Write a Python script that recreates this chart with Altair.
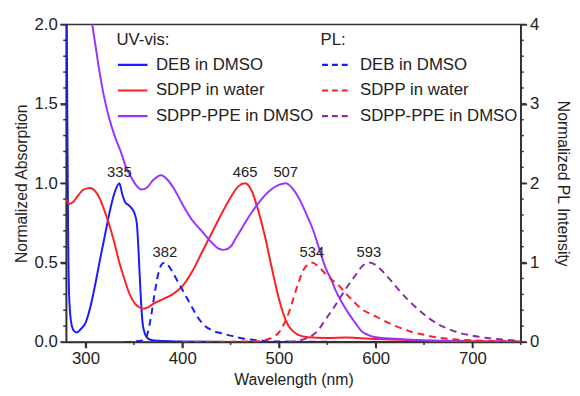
import altair as alt
import pandas as pd

FONT = "Liberation Sans"
INK = "#222222"
TICK = "#333333"

series_names = ["DEB in DMSO", "SDPP in water", "SDPP-PPE in DMSO"]
uv_colors = ["#1a1aff", "#ff1f1f", "#9933ff"]
pl_colors = ["#1a1aff", "#ff1f1f", "#8e2ba6"]

# ---- UV-vis absorption (left axis) ----
deb_abs_wl = [280, 281, 282, 283, 285, 288, 291, 295, 300, 305, 310, 315, 320, 325, 330, 335,
              338, 341, 345, 348, 350, 353, 355, 357, 359, 361, 364, 368, 375, 400, 450, 750]
deb_abs_v = [2.6, 1.6, 0.7, 0.3, 0.13, 0.07, 0.06, 0.08, 0.12, 0.22, 0.36, 0.52, 0.67, 0.82, 0.94, 1.0,
             0.93, 0.88, 0.86, 0.84, 0.82, 0.75, 0.55, 0.3, 0.12, 0.06, 0.025, 0.012, 0.007, 0.003, 0.0, 0.0]

sdpp_abs_wl = [280, 283, 287, 292, 298, 305, 310, 315, 320, 325, 330, 335, 340, 345, 350, 355, 360,
               365, 370, 380, 390, 400, 410, 420, 430, 440, 450, 458, 465, 472, 478, 485, 490, 495,
               500, 505, 510, 515, 520, 530, 550, 570, 580, 600, 650, 700, 750]
sdpp_abs_v = [0.9, 0.87, 0.88, 0.92, 0.96, 0.97, 0.95, 0.9, 0.82, 0.73, 0.62, 0.5, 0.4, 0.31, 0.25, 0.22, 0.21,
              0.22, 0.24, 0.27, 0.3, 0.35, 0.44, 0.56, 0.68, 0.8, 0.91, 0.98, 1.0, 0.95, 0.84, 0.68, 0.54, 0.4,
              0.27, 0.17, 0.1, 0.065, 0.045, 0.03, 0.025, 0.028, 0.025, 0.018, 0.01, 0.005, 0.003]

ppe_abs_wl = [300, 307, 310, 314, 319, 324, 330, 337, 342, 347, 352, 358, 363, 370, 378, 385, 392, 400,
              410, 420, 430, 437, 443, 450, 455, 462, 470, 477, 485, 494, 500, 507, 515, 522, 528, 535,
              541, 548, 555, 559, 565, 572, 579, 585, 592, 600, 620, 650, 700, 750]
ppe_abs_v = [2.4, 2.0, 1.88, 1.72, 1.55, 1.42, 1.3, 1.19, 1.1, 1.04, 0.99, 0.96, 0.97, 1.02, 1.05, 1.02, 0.96, 0.87,
             0.77, 0.7, 0.63, 0.59, 0.58, 0.6, 0.65, 0.72, 0.8, 0.86, 0.92, 0.97, 0.99, 1.0, 0.96, 0.89, 0.81, 0.71,
             0.6, 0.47, 0.38, 0.32, 0.25, 0.18, 0.12, 0.07, 0.045, 0.03, 0.02, 0.01, 0.005, 0.0]

# ---- PL emission (right axis) ----
deb_pl_wl = [340, 360, 364, 368, 372, 376, 379, 382, 386, 390, 395, 400, 405, 410, 415, 422, 430, 440,
             450, 460, 470, 480, 490, 500, 600]
deb_pl_v = [0.0, 0.02, 0.1, 0.34, 0.65, 0.9, 0.98, 1.0, 0.96, 0.88, 0.77, 0.66, 0.55, 0.44, 0.33, 0.22, 0.15, 0.11,
            0.08, 0.05, 0.03, 0.02, 0.01, 0.005, 0.0]

sdpp_pl_wl = [400, 480, 490, 495, 500, 505, 510, 515, 520, 525, 530, 534, 540, 548, 555, 562, 570, 578,
              586, 599, 605, 615, 625, 635, 650, 667, 680, 700, 725, 750]
sdpp_pl_v = [0.0, 0.01, 0.04, 0.07, 0.12, 0.22, 0.36, 0.55, 0.74, 0.9, 0.98, 1.0, 0.96, 0.86, 0.78, 0.71, 0.6, 0.5,
             0.41, 0.33, 0.29, 0.23, 0.18, 0.135, 0.09, 0.05, 0.035, 0.02, 0.01, 0.005]

ppe_pl_wl = [510, 520, 530, 540, 548, 556, 565, 572, 579, 585, 593, 600, 608, 616, 625, 635, 643, 655,
             665, 674, 685, 700, 715, 730, 750]
ppe_pl_v = [0.0, 0.02, 0.05, 0.14, 0.28, 0.42, 0.59, 0.72, 0.84, 0.94, 1.0, 0.97, 0.88, 0.77, 0.64, 0.51, 0.42, 0.3,
            0.22, 0.17, 0.12, 0.08, 0.05, 0.03, 0.015]

uv_peak_wl = [335, 465, 507]
uv_peak_v = [1.0, 1.0, 1.0]
pl_peak_wl = [382, 534, 593]
pl_peak_v = [1.0, 1.0, 1.0]

x_major = [300, 400, 500, 600, 700]
x_minor = [350, 450, 550, 650, 750]
left_major = [0.0, 0.5, 1.0, 1.5, 2.0]
left_minor = [0.1, 0.2, 0.3, 0.4, 0.6, 0.7, 0.8, 0.9, 1.1, 1.2, 1.3, 1.4, 1.6, 1.7, 1.8, 1.9]
right_major = [0, 1, 2, 3, 4]
right_minor = [0.2, 0.4, 0.6, 0.8, 1.2, 1.4, 1.6, 1.8, 2.2, 2.4, 2.6, 2.8, 3.2, 3.4, 3.6, 3.8]

W, H = 461, 322
MAJOR, MINOR = 6, 3


def frame(wl, v, name):
    return pd.DataFrame({"wl": wl, "v": v, "series": name})


uv = pd.concat([frame(deb_abs_wl, deb_abs_v, series_names[0]),
                frame(sdpp_abs_wl, sdpp_abs_v, series_names[1]),
                frame(ppe_abs_wl, ppe_abs_v, series_names[2])])
pl = pd.concat([frame(deb_pl_wl, deb_pl_v, series_names[0]),
                frame(sdpp_pl_wl, sdpp_pl_v, series_names[1]),
                frame(ppe_pl_wl, ppe_pl_v, series_names[2])])
uv_peaks = pd.DataFrame({"wl": uv_peak_wl, "v": uv_peak_v, "label": [str(w) for w in uv_peak_wl]})
pl_peaks = pd.DataFrame({"wl": pl_peak_wl, "v": pl_peak_v, "label": [str(w) for w in pl_peak_wl]})

axis_common = dict(domainColor=TICK, domainWidth=1.5, tickColor=TICK, tickWidth=1.5, tickSize=MAJOR,
                   labelFont=FONT, labelFontSize=17, labelColor=INK, titleFont=FONT,
                   titleFontSize=16, titleFontWeight="normal", titleColor=INK, grid=False,
                   labelPadding=3)

x_scale = alt.Scale(domain=[280, 750], nice=False, zero=False)
left_scale = alt.Scale(domain=[0, 2], nice=False)
right_scale = alt.Scale(domain=[0, 4], nice=False)

x_main = alt.X("wl:Q", title="Wavelength (nm)", scale=x_scale,
               axis=alt.Axis(orient="bottom", values=x_major, titlePadding=5, **axis_common))
y_left = alt.Y("v:Q", title="Normalized Absorption", scale=left_scale,
               axis=alt.Axis(orient="left", values=left_major, format=".1f", titlePadding=5, **axis_common))
y_right = alt.Y("v:Q", title="Normalized PL Intensity", scale=right_scale,
                axis=alt.Axis(orient="right", values=right_major, format=".0f", titlePadding=16, **axis_common))

legend_common = dict(orient="none", symbolType="stroke", symbolSize=900, symbolStrokeWidth=2.2,
                     labelFont=FONT, labelFontSize=17, labelColor=INK, titleFont=FONT, titleFontSize=17,
                     titleFontWeight="normal", titleColor=INK, clipHeight=20, rowPadding=6,
                     labelOffset=7, titlePadding=6, labelLimit=300)


# tick marks drawn as rules at the tick values, positioned through the same scales/axes
def y_ticks(values, y_enc, x0, x1):
    return alt.Chart(pd.DataFrame({"v": values})).mark_rule(color=TICK, strokeWidth=1.5).encode(
        y=y_enc, x=alt.value(x0), x2=alt.value(x1))


def x_ticks(values, length):
    return alt.Chart(pd.DataFrame({"wl": values})).mark_rule(color=TICK, strokeWidth=1.5).encode(
        x=x_main, y=alt.value(H), y2=alt.value(H + length))


uv_lines = alt.Chart(uv).mark_line(strokeWidth=2, clip=True, interpolate="monotone").encode(
    x=x_main, y=y_left,
    color=alt.Color("series:N", scale=alt.Scale(domain=series_names, range=uv_colors),
                    legend=alt.Legend(title="UV-vis:", legendX=51, legendY=8, **legend_common)),
    detail="series:N",
)
uv_text = alt.Chart(uv_peaks).mark_text(font=FONT, fontSize=15, color=INK, baseline="alphabetic", dy=-6).encode(
    x=x_main, y=y_left, text="label:N")

pl_lines = alt.Chart(pl).mark_line(strokeWidth=2, strokeDash=[7, 5], clip=True, interpolate="monotone").encode(
    x=x_main, y=y_right,
    color=alt.Color("series:N", scale=alt.Scale(domain=series_names, range=pl_colors),
                    legend=alt.Legend(title="PL:", legendX=258, legendY=8, symbolDash=[6, 4], **legend_common)),
    detail="series:N",
)
pl_text = alt.Chart(pl_peaks).mark_text(font=FONT, fontSize=15, color=INK, baseline="alphabetic", dy=-6).encode(
    x=x_main, y=y_right, text="label:N")

left = alt.layer(
    uv_lines, uv_text,
    y_ticks(left_major, y_left, -MAJOR, 0),
    y_ticks(left_minor, y_left, -MINOR, 0),
    x_ticks(x_major, MAJOR),
    x_ticks(x_minor, MINOR),
)
right = alt.layer(
    pl_lines, pl_text,
    y_ticks(right_major, y_right, W, W + MAJOR),
    y_ticks(right_minor, y_right, W, W + MINOR),
)

chart = alt.layer(left, right).resolve_scale(y="independent", color="independent").properties(
    width=W, height=H,
    autosize=alt.AutoSizeParams(type="none"),
    padding={"left": 59, "top": 14, "right": 52, "bottom": 44},
    background="white",
).configure_view(stroke=TICK, strokeWidth=1.5)

chart.save("out.html", embed_options={"renderer": "svg", "actions": False})
